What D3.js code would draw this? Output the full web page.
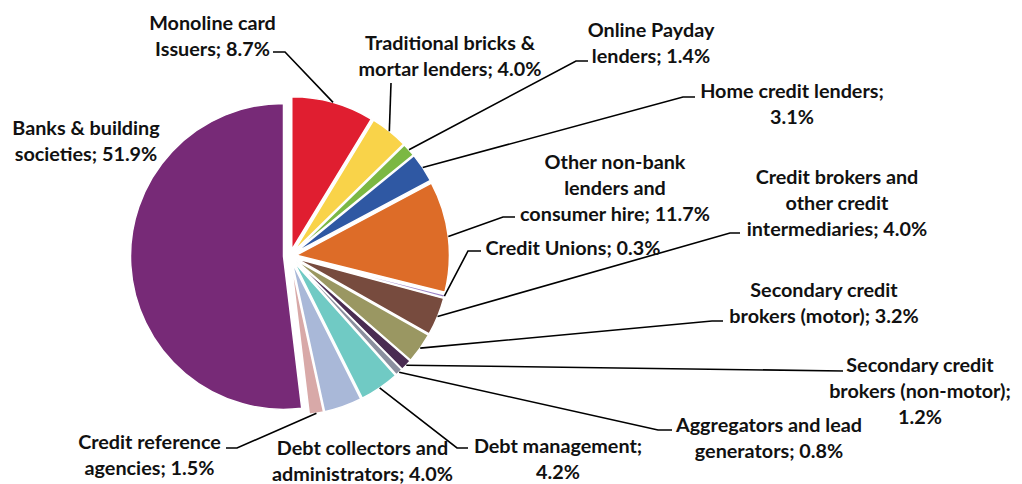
<!DOCTYPE html>
<html>
<head>
<meta charset="utf-8">
<script src="https://cdn.jsdelivr.net/npm/d3@7/dist/d3.min.js"></script>
<style>
  body { margin: 0; background: #ffffff; }
  svg { display: block; }
  .lbl { font-family: "Lato", "Open Sans", sans-serif; font-weight: 700; font-size: 19.8px; fill: #111; }
</style>
</head>
<body>
<svg id="chart" width="1022" height="484"></svg>
<script>
// Market share by type of consumer credit firm (clockwise from 12 o'clock)
const categories = [
  "Monoline card Issuers",
  "Traditional bricks & mortar lenders",
  "Online Payday lenders",
  "Home credit lenders",
  "Other non-bank lenders and consumer hire",
  "Credit Unions",
  "Credit brokers and other credit intermediaries",
  "Secondary credit brokers (motor)",
  "Secondary credit brokers (non-motor)",
  "Aggregators and lead generators",
  "Debt management",
  "Debt collectors and administrators",
  "Credit reference agencies",
  "Banks & building societies"
];
const shares = [8.7, 4.0, 1.4, 3.1, 11.7, 0.3, 4.0, 3.2, 1.2, 0.8, 4.2, 4.0, 1.5, 51.9];

const sliceColors = [
  "#e01e30", "#f9d349", "#7cb843", "#2f58a3", "#dd6c28", "#9d84c8", "#774b3e",
  "#9a9762", "#4a2c52", "#8a8f9e", "#70cac4", "#a9b8d8", "#d8a9a8", "#772a77"
];

// Words per wrapped label line
const lineBreaks = [
  [2, 2], [3, 3], [2, 2], [3, 1], [2, 2, 3], [3], [3, 2, 2],
  [2, 3], [2, 2, 1], [3, 2], [2, 1], [3, 2], [2, 2], [3, 2]
];

// Label block: centre x and first baseline
const labelAnchors = [
  [212.5, 30], [450, 50], [651, 37], [792, 98], [615, 169], [573, 255], [837, 184],
  [824, 297], [920, 372], [769, 432], [558, 453], [362.5, 455], [149.5, 449], [86, 135]
];

// Leader line: label-side x, y and elbow x (null = no leader)
const leaderEnds = [
  [273, 52, 285], [391, 83, 391], [588, 61, 576], [695, 97, 683], [515, 217, 503],
  [481, 251, 468], [740, 233, 730], [723, 321, 712], [843, 371, 843], [672, 430, 658],
  [468, 448, 457], null, [226, 448, 237], null
];

const W = 1022, H = 484;
const cx = 290, cy = 256, R = 153, explode = 6.5, lineH = 26;

const svg = d3.select("#chart");

const pie = d3.pie().sort(null).value(d => d).startAngle(0).endAngle(2 * Math.PI);
const arcs = pie(shares);
const arcGen = d3.arc().innerRadius(0).outerRadius(R);

const offsetOf = a => {
  const m = (a.startAngle + a.endAngle) / 2;
  return [Math.sin(m) * explode, -Math.cos(m) * explode];
};

const g = svg.append("g").attr("transform", `translate(${cx},${cy})`);

g.selectAll("path.slice")
  .data(arcs)
  .join("path")
  .attr("class", "slice")
  .attr("transform", d => { const o = offsetOf(d); return `translate(${o[0]},${o[1]})`; })
  .attr("d", arcGen)
  .attr("fill", (d, i) => sliceColors[i])
  .attr("stroke", "#ffffff")
  .attr("stroke-width", 1.5)
  .attr("stroke-linejoin", "round");

// Leader lines from each label to the outer edge of its slice
const leaders = svg.append("g")
  .attr("fill", "none")
  .attr("stroke", "#000")
  .attr("stroke-width", 1.6);

arcs.forEach((a, i) => {
  const le = leaderEnds[i];
  if (!le) return;
  const m = (a.startAngle + a.endAngle) / 2;
  const o = offsetOf(a);
  const sx = cx + o[0] + Math.sin(m) * R;
  const sy = cy + o[1] - Math.cos(m) * R;
  leaders.append("path")
    .attr("d", d3.line()([[le[0], le[1]], [le[2], le[1]], [sx, sy]]));
});

// Labels: "<category>; <value>%"
const labels = svg.append("g");
categories.forEach((name, i) => {
  const words = `${name}; ${shares[i].toFixed(1)}%`.split(" ");
  const lines = [];
  let k = 0;
  lineBreaks[i].forEach(n => { lines.push(words.slice(k, k + n).join(" ")); k += n; });
  const t = labels.append("text")
    .attr("class", "lbl")
    .attr("text-anchor", "middle")
    .attr("x", labelAnchors[i][0])
    .attr("y", labelAnchors[i][1]);
  lines.forEach((ln, j) => {
    t.append("tspan")
      .attr("x", labelAnchors[i][0])
      .attr("y", labelAnchors[i][1] + j * lineH)
      .text(ln);
  });
});
</script>
</body>
</html>
